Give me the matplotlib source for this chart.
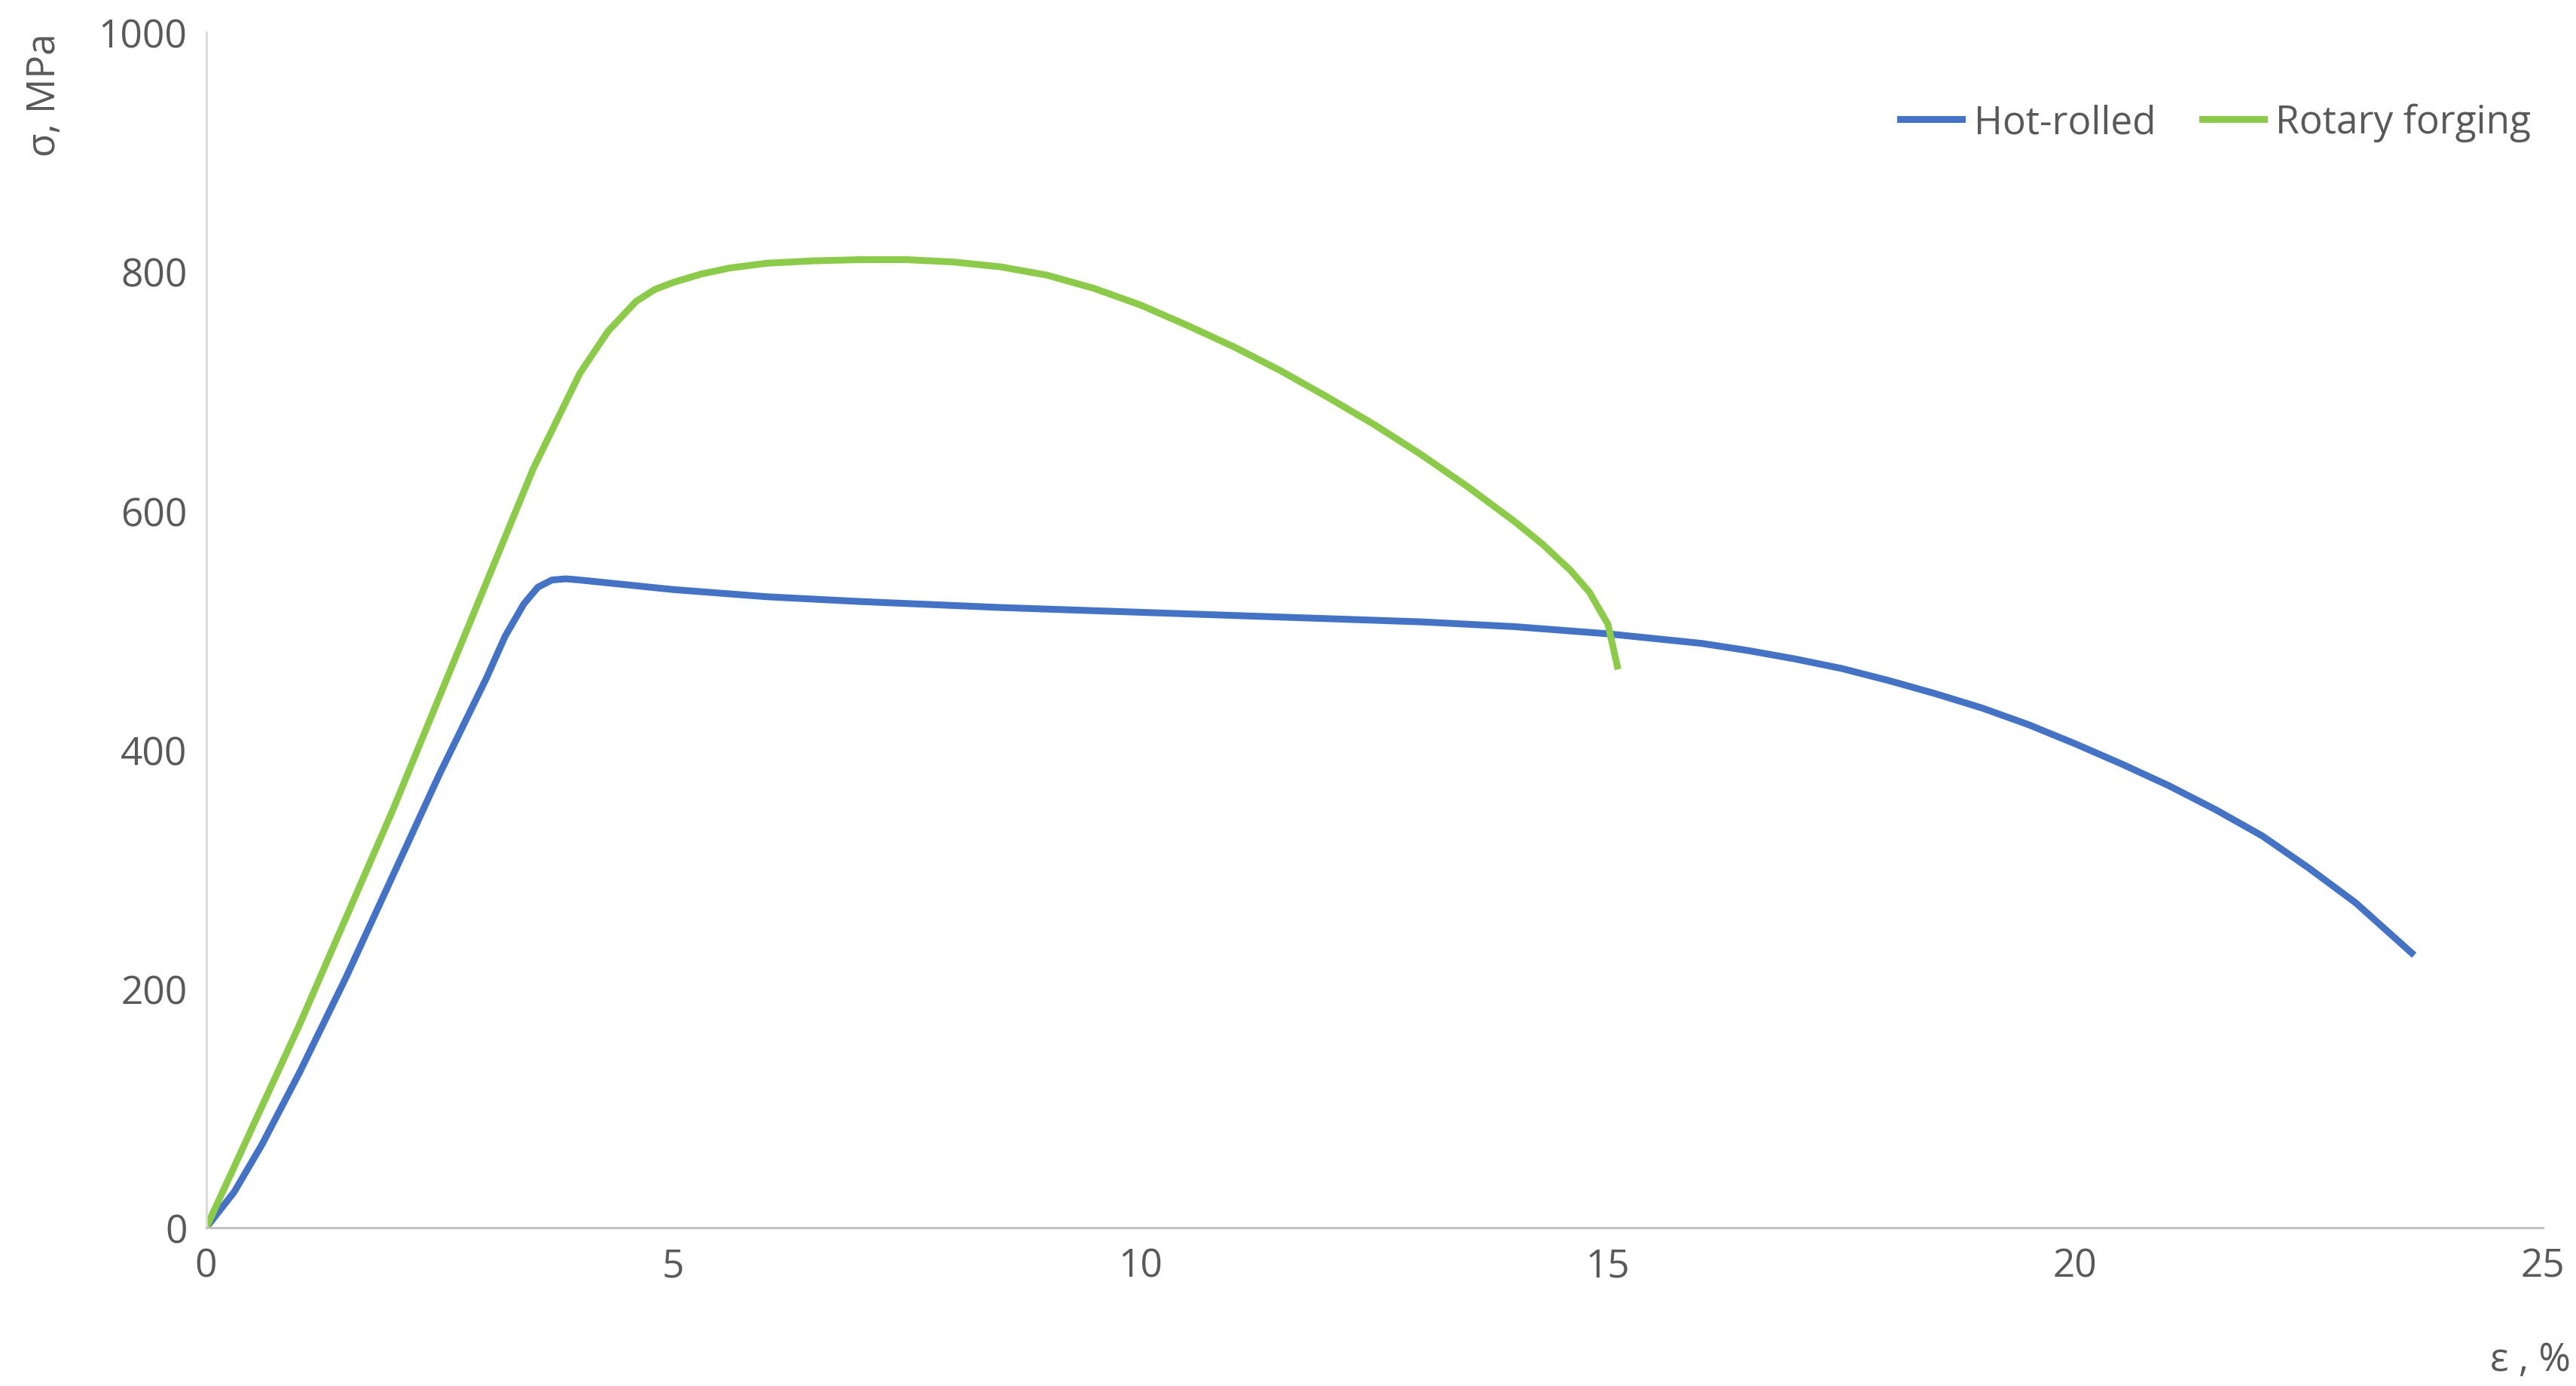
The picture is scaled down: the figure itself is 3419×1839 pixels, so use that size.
import matplotlib
matplotlib.use("Agg")
import matplotlib.pyplot as plt

hot_x = [0, 0.3, 0.6, 1, 1.5, 2, 2.5, 3, 3.2, 3.4, 3.55, 3.7, 3.85, 4, 4.5, 5, 6, 7, 8.5, 10, 11.5, 13, 14, 15, 15.5, 16, 16.5, 17, 17.5, 18, 18.5, 19, 19.5, 20, 20.5, 21, 21.5, 22, 22.5, 23, 23.3, 23.6]
hot_y = [0, 30, 70, 130, 210, 295, 380, 460, 495, 522, 536, 542, 543, 542, 538, 534, 528, 524, 519, 515, 511, 507, 503, 497, 493, 489, 483, 476, 468, 458, 447, 435, 421, 405, 388, 370, 350, 328, 301, 272, 251, 230]
rot_x = [0, 0.5, 1, 1.5, 2, 2.5, 3, 3.5, 4, 4.3, 4.6, 4.8, 5, 5.3, 5.6, 6, 6.5, 7, 7.5, 8, 8.5, 9, 9.5, 10, 10.5, 11, 11.5, 12, 12.5, 13, 13.5, 14, 14.3, 14.6, 14.8, 15, 15.1]
rot_y = [0, 85, 170, 260, 350, 445, 540, 635, 715, 750, 775, 785, 791, 798, 803, 807, 809, 810, 810, 808, 804, 797, 786, 772, 755, 737, 717, 695, 672, 647, 620, 591, 572, 550, 532, 505, 470]
xticks = [0, 5, 10, 15, 20, 25]
yticks = [0, 200, 400, 600, 800, 1000]

plt.rcParams['font.family'] = ['Open Sans', 'DejaVu Sans']
fig = plt.figure(figsize=(34.19, 18.4), dpi=100)
ax = fig.add_axes([0.080, 0.114, 0.907, 0.862])
ax.plot(hot_x, hot_y, color='#4472C4', lw=6.5, label='Hot-rolled', solid_joinstyle='round')
ax.plot(rot_x, rot_y, color='#8CCB4A', lw=6.5, label='Rotary forging', solid_joinstyle='round')
ax.set_xlim(0, 25)
ax.set_ylim(0, 1000)
ax.set_xticks(xticks)
ax.set_yticks(yticks)
ax.tick_params(length=0, labelsize=37, colors='#595959', pad=18)
for s in ['top', 'right']:
    ax.spines[s].set_visible(False)
ax.spines['left'].set_color('#D9D9D9')
ax.spines['bottom'].set_color('#BFBFBF')
ax.spines['left'].set_linewidth(2)
ax.spines['bottom'].set_linewidth(2)
fig.text(0.010, 0.976, 'σ, MPa', rotation=90, ha='left', va='top', fontsize=37, color='#595959')
fig.text(0.998, 0.005, 'ε , %', ha='right', va='bottom', fontsize=37, color='#595959')
leg = ax.legend(loc='upper right', bbox_to_anchor=(1.01, 0.97), ncol=2, frameon=False,
                fontsize=37, handlelength=1.6, handletextpad=0.3, columnspacing=1.2, labelcolor='#595959')
fig.savefig('out.png', dpi=100)
